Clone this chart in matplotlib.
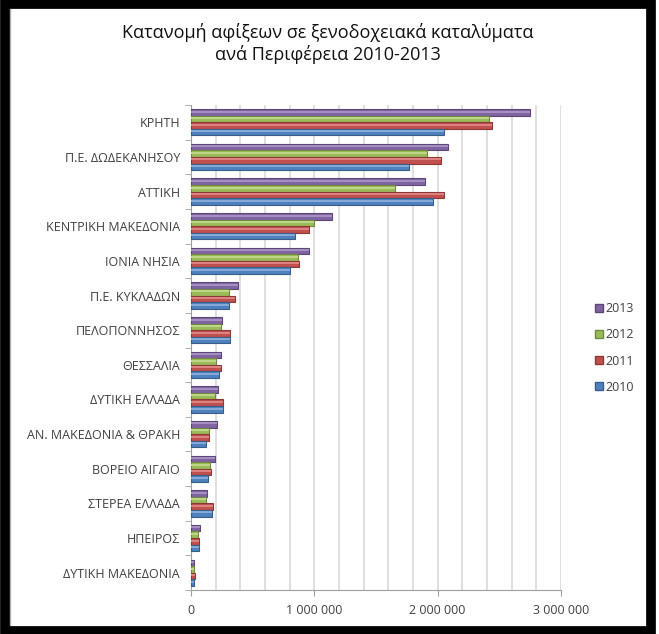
import matplotlib
matplotlib.use("Agg")
import matplotlib.pyplot as plt
import numpy as np
from matplotlib.patches import Rectangle

plt.rcParams['font.family'] = ['Open Sans', 'DejaVu Sans']

categories = ["ΚΡΗΤΗ", "Π.Ε. ΔΩΔΕΚΑΝΗΣΟΥ", "ΑΤΤΙΚΗ", "ΚΕΝΤΡΙΚΗ ΜΑΚΕΔΟΝΙΑ",
              "ΙΟΝΙΑ ΝΗΣΙΑ", "Π.Ε. ΚΥΚΛΑΔΩΝ", "ΠΕΛΟΠΟΝΝΗΣΟΣ", "ΘΕΣΣΑΛΙΑ",
              "ΔΥΤΙΚΗ ΕΛΛΑΔΑ", "ΑΝ. ΜΑΚΕΔΟΝΙΑ & ΘΡΑΚΗ", "ΒΟΡΕΙΟ ΑΙΓΑΙΟ",
              "ΣΤΕΡΕΑ ΕΛΛΑΔΑ", "ΗΠΕΙΡΟΣ", "ΔΥΤΙΚΗ ΜΑΚΕΔΟΝΙΑ"]
years = ["2013", "2012", "2011", "2010"]
v2013 = [2750000, 2080000, 1900000, 1140000, 957000, 384000, 251000, 246000, 219000, 208000, 195000, 132000, 73000, 27000]
v2012 = [2420000, 1910000, 1650000, 1000000, 865000, 308000, 243000, 200000, 195000, 146000, 154000, 119000, 60000, 24000]
v2011 = [2440000, 2030000, 2050000, 960000, 873000, 357000, 319000, 246000, 260000, 146000, 162000, 176000, 65000, 30000]
v2010 = [2050000, 1770000, 1960000, 840000, 800000, 308000, 314000, 230000, 260000, 119000, 140000, 170000, 65000, 24000]
xticks = [0, 1000000, 2000000, 3000000]
xticklabels = ["0", "1 000 000", "2 000 000", "3 000 000"]

series = [v2013, v2012, v2011, v2010]
colors = ["#8064A2", "#9BBB59", "#C0504D", "#4F81BD"]
edges = ["#5c4776", "#71883f", "#8c3836", "#385d8a"]
lights = ["#a58fc2", "#bcd68a", "#dc8381", "#86a9d8"]

W, H = 659, 634
fig = plt.figure(figsize=(W / 100, H / 100), dpi=100)
fig.patch.set_facecolor("white")

ax = fig.add_axes([191 / W, (H - 590) / H, (561 - 191) / W, (590 - 105) / H])
y = np.arange(len(categories))
bh = 0.19
for i, (vals, c, e, l) in enumerate(zip(series, colors, edges, lights)):
    off = (i - 1.5) * bh
    ax.barh(y + off, vals, height=bh, color=c, edgecolor=e, linewidth=0.8, zorder=3)
    ax.barh(y + off - bh * 0.12, vals, height=bh * 0.3, color=l, linewidth=0, zorder=4)

ax.set_ylim(len(categories) - 0.5, -0.5)
ax.set_xlim(0, 3000000)
ax.set_yticks(y)
ax.set_yticklabels(categories, fontsize=9, color="#404040")
ax.tick_params(axis='y', length=0, pad=8)
ax.set_yticks(np.arange(len(categories) + 1) - 0.5, minor=True)
ax.tick_params(axis='y', which='minor', length=4, color="#a0a0a0")
ax.set_xticks(xticks)
ax.set_xticklabels(xticklabels, fontsize=9, color="#404040")
ax.set_xticks(np.arange(0, 3000001, 200000), minor=True)
ax.tick_params(axis='x', which='major', length=4, color="#a0a0a0", pad=6)
ax.tick_params(axis='x', which='minor', length=0)
ax.grid(axis='x', which='both', color="#d9d9d9", linewidth=1.2, zorder=0)
for s in ["top", "right"]:
    ax.spines[s].set_visible(False)
ax.spines["left"].set_color("#a0a0a0")
ax.spines["bottom"].set_color("#a0a0a0")
ax.set_axisbelow(True)

# legend
handles = [Rectangle((0, 0), 1, 1, facecolor=c, edgecolor=e) for c, e in zip(colors, edges)]
leg = fig.legend(handles, years, loc="center left", bbox_to_anchor=(584 / W, 1 - 348 / H),
                 frameon=False, fontsize=9, handlelength=0.6, handleheight=0.6,
                 handletextpad=0.25, labelspacing=1.05, labelcolor="#404040")

fig.text(328 / W, 1 - 33 / H, "Κατανομή αφίξεων σε ξενοδοχειακά καταλύματα",
         ha="center", va="center", fontsize=13, color="#111111")
fig.text(328 / W, 1 - 55 / H, "ανά Περιφέρεια 2010-2013",
         ha="center", va="center", fontsize=13, color="#111111")

# outer black frame
fig.patches.append(Rectangle((4.5 / W, 3.5 / H), (W - 4.5 - 4.5 - 4) / W, (H - 7) / H,
                             transform=fig.transFigure, fill=False,
                             edgecolor="black", linewidth=7, zorder=10))
fig.patches.append(Rectangle((10 / W, 7 / H), (W - 20) / W, (H - 14) / H,
                             transform=fig.transFigure, fill=False,
                             edgecolor="#b0b0b0", linewidth=1, zorder=9))

fig.savefig("out.png", dpi=100, facecolor="white")
